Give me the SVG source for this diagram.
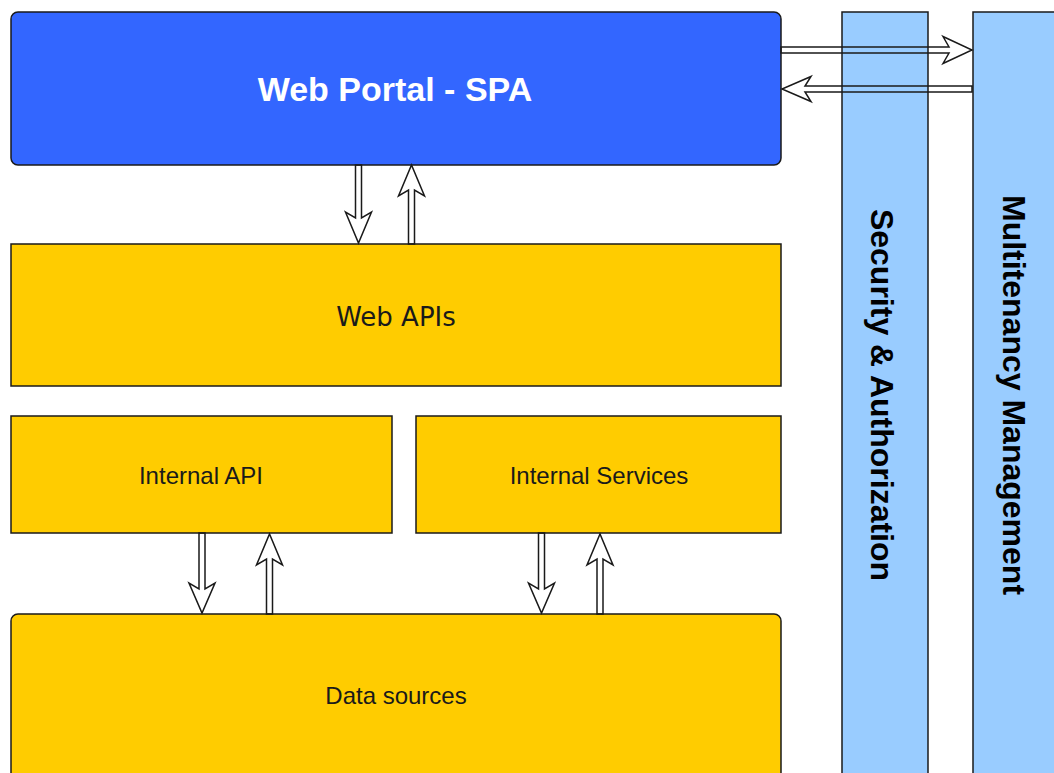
<svg xmlns="http://www.w3.org/2000/svg" width="1054" height="773" viewBox="0 0 1054 773">
<style>
.box{stroke:#1a1a1a;stroke-width:1.5}
.blue{fill:#3366FF}
.yellow{fill:#FFCC00}
.lblue{fill:#99CCFF}
.arr{fill:none;stroke:#1a1a1a;stroke-width:1.5;stroke-linejoin:miter}
.t{font-family:"Liberation Sans",Arial,sans-serif;font-size:24px;fill:#1a1a1a;text-anchor:middle}
.tv{font-family:"DejaVu Sans",Verdana,sans-serif;font-size:26px;fill:#1a1a1a;text-anchor:middle}
.tb{font-family:"Liberation Sans",Arial,sans-serif;font-weight:bold;font-size:32px;fill:#000;text-anchor:middle}
</style>
<rect width="1054" height="773" fill="#ffffff"/>
<g id="security">
<rect class="box lblue" x="842" y="12" width="86" height="780"/>
<text class="tb" transform="translate(871,395) rotate(90)">Security &amp; Authorization</text>
</g>
<g id="multitenancy">
<rect class="box lblue" x="973" y="12" width="100" height="780"/>
<text class="tb" transform="translate(1003,395) rotate(90)">Multitenancy Management</text>
</g>
<g id="webportal">
<rect class="box blue" x="11" y="12" width="770" height="153" rx="7" ry="7"/>
<text class="tb" x="395" y="101" style="fill:#ffffff;font-size:34px">Web Portal - SPA</text>
</g>
<g id="webapis">
<rect class="box yellow" x="11" y="244" width="770" height="142"/>
<text class="tv" x="396" y="326">Web APIs</text>
</g>
<g id="internalapi">
<rect class="box yellow" x="11" y="416" width="381" height="117"/>
<text class="t" x="201" y="484">Internal API</text>
</g>
<g id="internalservices">
<rect class="box yellow" x="416" y="416" width="365" height="117"/>
<text class="t" x="599" y="484">Internal Services</text>
</g>
<g id="datasources">
<rect class="box yellow" x="11" y="614" width="770" height="180" rx="7" ry="7"/>
<text class="t" x="396" y="704">Data sources</text>
</g>
<g id="connectors">
<path class="arr" d="M781,47 L949,47 L943,36.5 L972,50 L943,63.5 L949,53 L781,53 Z"/>
<path class="arr" d="M972,86 L805,86 L811,76.5 L782,89 L811,101.5 L805,92 L972,92 Z"/>
<path class="arr" d="M355.5,165 L355.5,218 L345.5,212 L358.5,243 L371.5,212 L361.5,218 L361.5,165 Z"/>
<path class="arr" d="M408.5,244 L408.5,190 L398.5,196 L411.5,165 L424.5,196 L414.5,190 L414.5,244 Z"/>
<path class="arr" d="M199,533 L199,589 L189,583 L202,613 L215,583 L205,589 L205,533 Z"/>
<path class="arr" d="M266.5,614 L266.5,559 L256.5,565 L269.5,534 L282.5,565 L272.5,559 L272.5,614 Z"/>
<path class="arr" d="M538.5,533 L538.5,589 L528.5,583 L541.5,613 L554.5,583 L544.5,589 L544.5,533 Z"/>
<path class="arr" d="M597,614 L597,559 L587,565 L600,534 L613,565 L603,559 L603,614 Z"/>
</g>
</svg>
